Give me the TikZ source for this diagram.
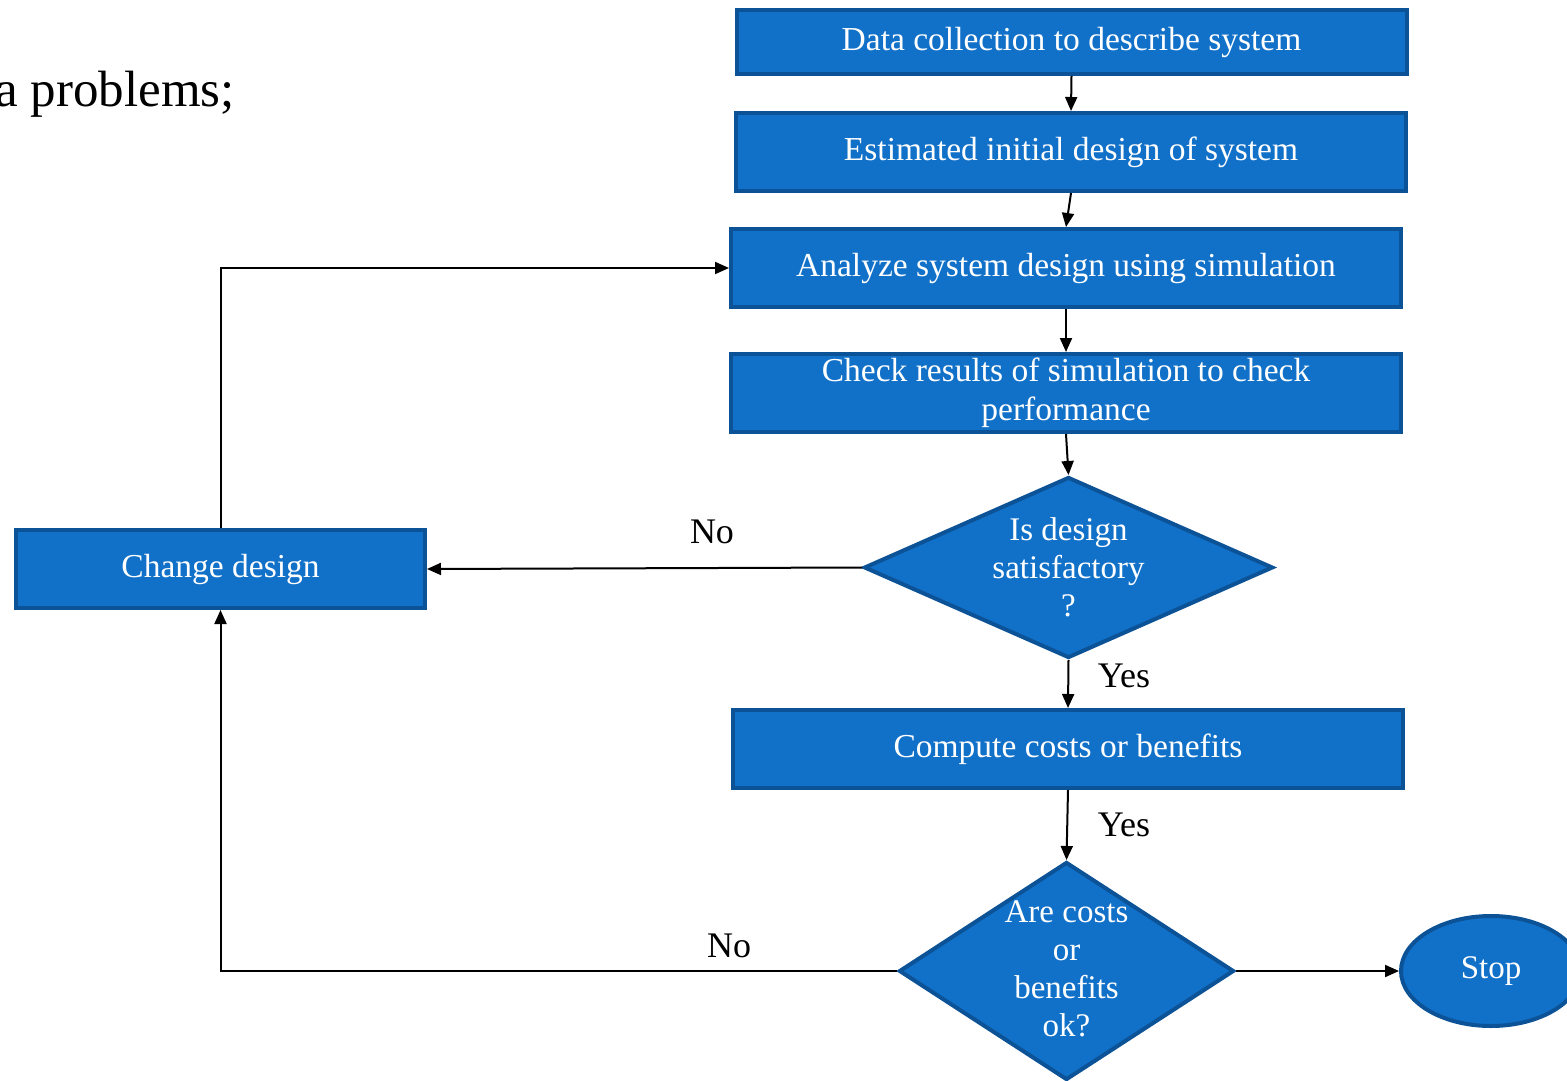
\documentclass[tikz,border=0pt]{standalone}
\usepackage{fontspec}
\setmainfont{Liberation Serif}
\usetikzlibrary{shapes.geometric,arrows.meta}
\definecolor{boxfill}{RGB}{17,112,200}
\definecolor{boxline}{RGB}{12,82,150}
\tikzset{
  box/.style={draw=boxline, line width=4pt, fill=boxfill, text=white,
    font=\fontsize{33.5}{39}\selectfont, align=center, inner sep=0pt,
    minimum width=670pt, minimum height=78pt},
  dec/.style={diamond, draw=boxline, line width=4pt, fill=boxfill, inner sep=0pt},
  dectext/.style={text=white, font=\fontsize{33}{38}\selectfont, align=center, inner sep=0pt},
  arr/.style={-{Triangle[length=14pt,width=12pt]}, line width=2pt},
  lbl/.style={font=\fontsize{36}{40}\selectfont, inner sep=0pt}
}
\begin{document}
\begin{tikzpicture}[x=1pt,y=-1pt]
\useasboundingbox (0,0) rectangle (1567,1081);
\clip (0,0) rectangle (1567,1081);
\node[anchor=east, font=\fontsize{51}{56}\selectfont, inner sep=0pt] (frag) at (235,94) {a problems;};

\node[box, minimum height=64pt] (b1) at (1071.5,42) {Data collection to describe system};
\node[box] (b2) at (1071,152) {Estimated initial design of system};
\node[box] (b3) at (1066,268) {Analyze system design using simulation};
\node[box] (b4) at (1066,393) {Check results of simulation to check\\performance};
\node[dec, minimum width=409pt, minimum height=181pt] (d1) at (1068.5,567.5) {};
\node[dectext] (d1t) at (d1.center) {Is design\\satisfactory\\?};
\node[box] (b5) at (1068,749) {Compute costs or benefits};
\node[dec, minimum width=335pt, minimum height=218pt] (d2) at (1066.5,971) {};
\node[dectext] (d2t) at ([yshift=2pt]d2.center) {Are costs\\or\\benefits\\ok?};
\node[box, minimum width=409pt] (cd) at (220.5,569) {Change design};
\node[ellipse, draw=boxline, line width=4pt, fill=boxfill, text=white,
  font=\fontsize{33}{36}\selectfont, minimum width=180pt, minimum height=110pt, inner sep=0pt]
  (stop) at (1491,971) {Stop};

\draw[arr] (b1.south) -- (b2.north);
\draw[arr] (b2.south) -- (b3.north);
\draw[arr] (b3.south) -- (b4.north);
\draw[arr] (b4.south) -- (d1.north);
\draw[arr] (d1.west) -- (cd.east);
\draw[arr] (d1.south) -- (b5.north);
\draw[arr] (b5.south) -- (d2.north);
\draw[arr] (d2.west) -| (cd.south);
\draw[arr] (d2.east) -- (stop.west);
\draw[arr] (cd.north) |- (b3.west);

\node[lbl] (no1) at (712,532) {No};
\node[lbl] (yes1) at (1124,676) {Yes};
\node[lbl] (yes2) at (1124,825) {Yes};
\node[lbl] (no2) at (729,946) {No};
\end{tikzpicture}
\end{document}
